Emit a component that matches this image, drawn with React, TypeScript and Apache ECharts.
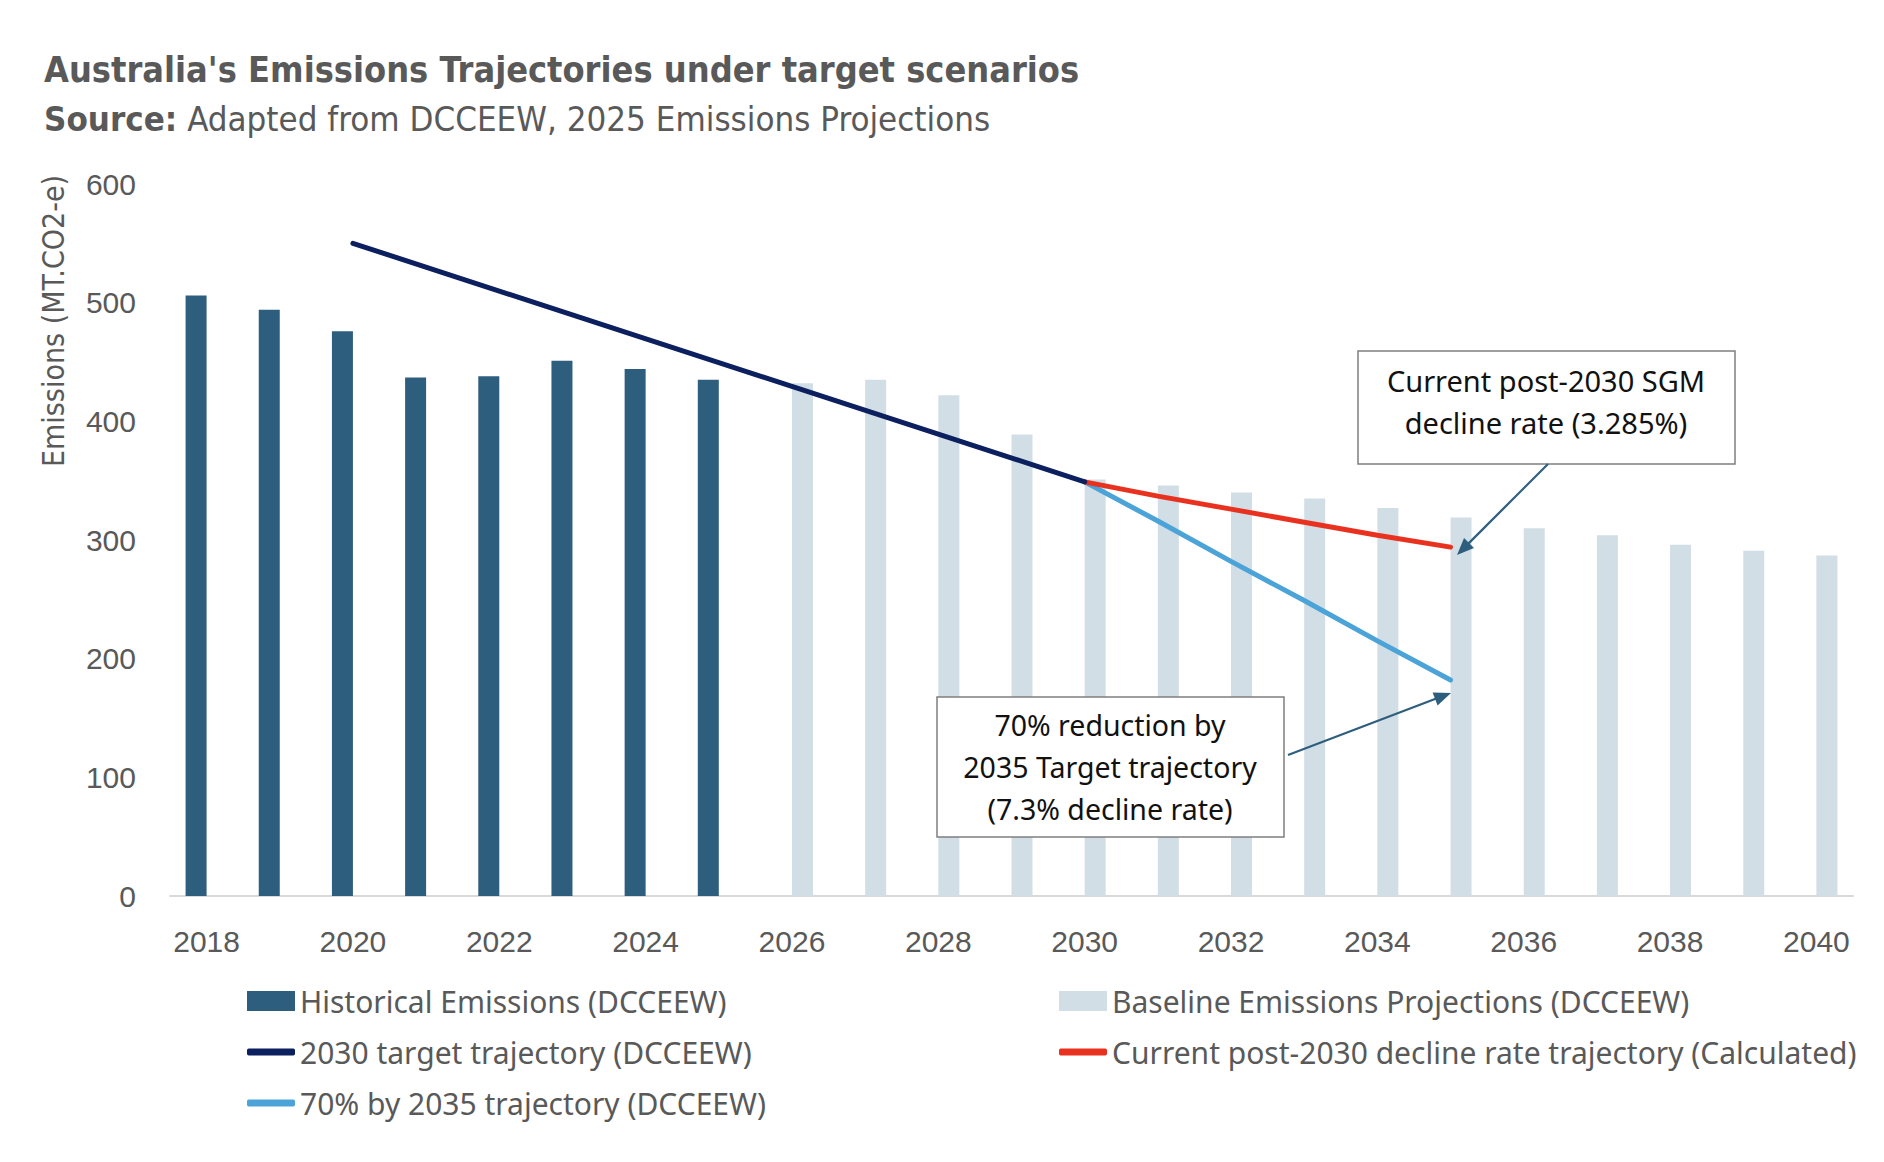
import React, { useEffect, useRef } from "react";
import * as echarts from "echarts";

// ---- Data ----
const categories = [
  "2018", "2019", "2020", "2021", "2022", "2023", "2024", "2025", "2026", "2027", "2028", "2029",
  "2030", "2031", "2032", "2033", "2034", "2035", "2036", "2037", "2038", "2039", "2040",
];
const historicalYears = ["2018", "2019", "2020", "2021", "2022", "2023", "2024", "2025"];
const historicalValues = [506, 494, 476, 437, 438, 451, 444, 435];
const baselineYears = [
  "2026", "2027", "2028", "2029", "2030", "2031", "2032", "2033", "2034", "2035", "2036", "2037", "2038", "2039", "2040",
];
const baselineValues = [432, 435, 422, 389, 351, 346, 340, 335, 327, 319, 310, 304, 296, 291, 287];
const target2030Years = ["2020", "2030"];
const target2030Values = [550, 349];
const post2030Years = ["2030", "2031", "2032", "2033", "2034", "2035"];
const currentDeclineValues = [349, 337, 326, 315, 304, 294];
const target2035Values = [349, 316, 282, 249, 215, 182];
const yTicks = { min: 0, max: 600, interval: 100 };

const seriesNames = {
  hist: "Historical Emissions (DCCEEW)",
  base: "Baseline Emissions Projections (DCCEEW)",
  t2030: "2030 target trajectory (DCCEEW)",
  cur: "Current post-2030 decline rate trajectory (Calculated)",
  t2035: "70% by 2035 trajectory (DCCEEW)",
};

const COLORS = {
  hist: "#2E5E7E",
  base: "#D1DEE5",
  t2030: "#0C1F5E",
  cur: "#E8321F",
  t2035: "#4BA3D8",
  text: "#595959",
  arrow: "#2E5E7E",
};

const NARROW = "'Liberation Sans Narrow', 'DejaVu Sans Condensed', sans-serif";
const ARIAL = "'Liberation Sans', Arial, sans-serif";
const SANS = "'Noto Sans', 'Open Sans', sans-serif";

const fullSeries = (years: string[], values: number[]) =>
  categories.map((c) => {
    const i = years.indexOf(c);
    return i >= 0 ? values[i] : null;
  });

const pairs = (years: string[], values: number[]) => years.map((y, i) => [y, values[i]]);

function arrow(x1: number, y1: number, x2: number, y2: number, color: string) {
  const dx = x2 - x1;
  const dy = y2 - y1;
  const len = Math.sqrt(dx * dx + dy * dy);
  const ux = dx / len;
  const uy = dy / len;
  const hl = 17;
  const hw = 7;
  const bx = x2 - ux * hl;
  const by = y2 - uy * hl;
  return [
    {
      type: "line",
      shape: { x1, y1, x2: bx + ux * 2, y2: by + uy * 2 },
      style: { stroke: color, lineWidth: 2.2 },
      z: 20,
    },
    {
      type: "polygon",
      shape: {
        points: [
          [x2, y2],
          [bx - uy * hw, by + ux * hw],
          [bx + uy * hw, by - ux * hw],
        ],
      },
      style: { fill: color },
      z: 20,
    },
  ];
}

function legendFor(name: string, left: number, top: number, icon: string, w: number, h: number) {
  return {
    show: true,
    data: [{ name, icon }],
    left,
    top,
    orient: "horizontal",
    itemWidth: w,
    itemHeight: h,
    padding: 0,
    selectedMode: false,
    textStyle: { fontFamily: SANS, fontSize: 30, color: COLORS.text, lineHeight: 34 },
  };
}

export default function App() {
  const ref = useRef<HTMLDivElement>(null);

  useEffect(() => {
    document.body.style.margin = "0";
    const chart = echarts.init(ref.current!, undefined, { renderer: "svg" });

    const option: any = {
      animation: false,
      backgroundColor: "#ffffff",
      title: [
        {
          text: "Australia's Emissions Trajectories under target scenarios",
          left: 44,
          top: 51,
          padding: 0,
          textStyle: { fontFamily: NARROW, fontWeight: "bold", fontSize: 35.8, color: COLORS.text },
        },
        {
          text: "{b|Source:} Adapted from DCCEEW, 2025 Emissions Projections",
          left: 44,
          top: 101,
          padding: 0,
          textStyle: {
            fontFamily: NARROW,
            fontSize: 34.6,
            fontWeight: "normal",
            color: COLORS.text,
            rich: {
              b: { fontFamily: NARROW, fontSize: 34.6, fontWeight: "bold", color: COLORS.text },
            },
          },
        },
      ],
      grid: { left: 170, right: 31, top: 184, bottom: 266, containLabel: false },
      xAxis: {
        type: "category",
        data: categories,
        axisLine: { show: true, lineStyle: { color: "#D9D9D9", width: 2 } },
        axisTick: { show: false },
        axisLabel: {
          interval: 1,
          margin: 30,
          fontFamily: ARIAL,
          fontSize: 30,
          color: COLORS.text,
        },
        splitLine: { show: false },
      },
      yAxis: {
        type: "value",
        min: yTicks.min,
        max: yTicks.max,
        interval: yTicks.interval,
        axisLine: { show: false },
        axisTick: { show: false },
        splitLine: { show: false },
        axisLabel: { margin: 34, fontFamily: ARIAL, fontSize: 30, color: COLORS.text },
      },
      legend: [
        legendFor(seriesNames.hist, 247, 984, "rect", 48, 20),
        legendFor(seriesNames.base, 1059, 984, "rect", 48, 20),
        legendFor(seriesNames.t2030, 247, 1035, "roundRect", 48, 7),
        legendFor(seriesNames.cur, 1059, 1035, "roundRect", 48, 7),
        legendFor(seriesNames.t2035, 247, 1086, "roundRect", 48, 7),
      ],
      series: [
        {
          name: seriesNames.hist,
          type: "bar",
          data: fullSeries(historicalYears, historicalValues),
          barWidth: 21,
          barGap: "0%",
          itemStyle: { color: COLORS.hist },
          z: 2,
        },
        {
          name: seriesNames.base,
          type: "bar",
          data: fullSeries(baselineYears, baselineValues),
          barWidth: 21,
          barGap: "0%",
          itemStyle: { color: COLORS.base },
          z: 2,
        },
        {
          name: seriesNames.t2030,
          type: "line",
          data: pairs(target2030Years, target2030Values),
          symbol: "none",
          lineStyle: { color: COLORS.t2030, width: 5, cap: "round" },
          itemStyle: { color: COLORS.t2030 },
          z: 5,
        },
        {
          name: seriesNames.cur,
          type: "line",
          data: pairs(post2030Years, currentDeclineValues),
          symbol: "none",
          lineStyle: { color: COLORS.cur, width: 5, cap: "round" },
          itemStyle: { color: COLORS.cur },
          z: 4,
        },
        {
          name: seriesNames.t2035,
          type: "line",
          data: pairs(post2030Years, target2035Values),
          symbol: "none",
          lineStyle: { color: COLORS.t2035, width: 5, cap: "round" },
          itemStyle: { color: COLORS.t2035 },
          z: 3,
        },
      ],
      graphic: [
        {
          type: "text",
          x: 53,
          y: 321,
          rotation: Math.PI / 2,
          style: {
            text: "Emissions (MT.CO2-e)",
            fontFamily: NARROW,
            fontSize: 30,
            fill: COLORS.text,
            align: "center",
            verticalAlign: "middle",
          },
        },
        {
          type: "rect",
          shape: { x: 1358, y: 351, width: 377, height: 113 },
          style: { fill: "#ffffff", stroke: "#7F7F7F", lineWidth: 1.5 },
          z: 10,
        },
        {
          type: "text",
          x: 1546,
          y: 401,
          style: {
            text: "Current post-2030 SGM\ndecline rate (3.285%)",
            fontFamily: SANS,
            fontSize: 29,
            lineHeight: 42,
            fill: "#111111",
            align: "center",
            verticalAlign: "middle",
          },
          z: 11,
        },
        {
          type: "rect",
          shape: { x: 937, y: 697, width: 347, height: 140 },
          style: { fill: "#ffffff", stroke: "#7F7F7F", lineWidth: 1.5 },
          z: 10,
        },
        {
          type: "text",
          x: 1110,
          y: 767,
          style: {
            text: "70% reduction by\n2035 Target trajectory\n(7.3% decline rate)",
            fontFamily: SANS,
            fontSize: 28.5,
            lineHeight: 42,
            fill: "#111111",
            align: "center",
            verticalAlign: "middle",
          },
          z: 11,
        },
        ...arrow(1548, 464, 1457, 555, COLORS.arrow),
        ...arrow(1288, 755, 1451, 693, COLORS.arrow),
      ],
    };

    chart.setOption(option);
    return () => chart.dispose();
  }, []);

  return (
    <div
      ref={ref}
      style={{ position: "fixed", left: 0, top: 0, width: 1884, height: 1162, background: "#fff" }}
    />
  );
}
